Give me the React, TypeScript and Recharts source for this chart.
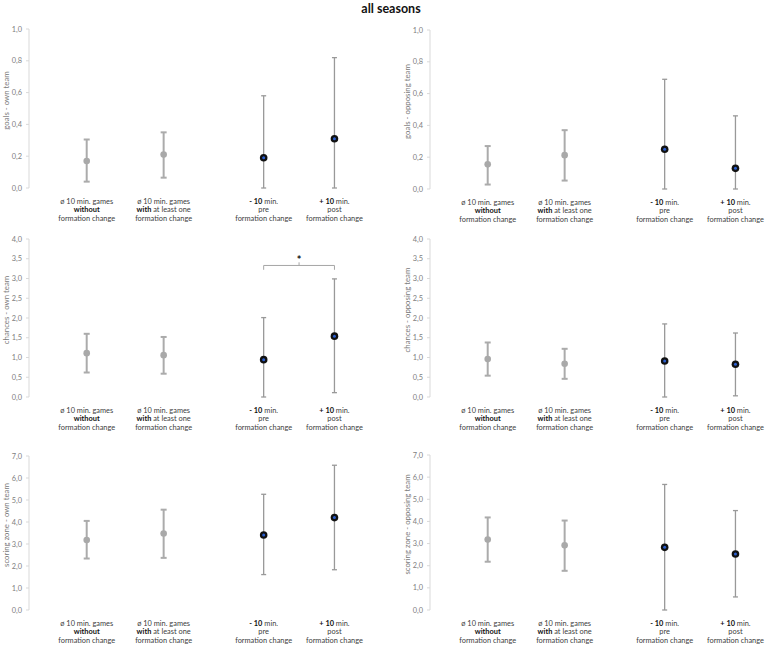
import React from "react";
import {
  ScatterChart,
  Scatter,
  XAxis,
  YAxis,
  ErrorBar,
  ReferenceLine,
  ReferenceDot,
} from "recharts";

// x-axis labels, "|" = line break, ** ** = bold
const categories = [
  "ø 10 min. games|**without**|formation change",
  "ø 10 min. games|**with** at least one|formation change",
  "**- 10** min.|pre|formation change",
  "**+ 10** min.|post|formation change",
];

const goalsOwnMean = [0.17, 0.21, 0.19, 0.31];
const goalsOwnLow = [0.04, 0.065, 0, 0];
const goalsOwnHigh = [0.305, 0.35, 0.58, 0.82];

const goalsOppMean = [0.155, 0.213, 0.25, 0.13];
const goalsOppLow = [0.028, 0.053, 0, 0];
const goalsOppHigh = [0.27, 0.37, 0.69, 0.46];

const chancesOwnMean = [1.11, 1.06, 0.945, 1.54];
const chancesOwnLow = [0.62, 0.59, 0, 0.11];
const chancesOwnHigh = [1.6, 1.52, 2.01, 2.99];

const chancesOppMean = [0.96, 0.84, 0.91, 0.83];
const chancesOppLow = [0.54, 0.46, 0, 0.03];
const chancesOppHigh = [1.38, 1.22, 1.85, 1.62];

const zoneOwnMean = [3.18, 3.48, 3.41, 4.2];
const zoneOwnLow = [2.34, 2.37, 1.61, 1.83];
const zoneOwnHigh = [4.05, 4.56, 5.26, 6.58];

const zoneOppMean = [3.18, 2.92, 2.83, 2.53];
const zoneOppLow = [2.18, 1.77, 0, 0.59];
const zoneOppHigh = [4.18, 4.04, 5.67, 4.49];

const goalTicks = [0, 0.2, 0.4, 0.6, 0.8, 1];
const chanceTicks = [0, 0.5, 1, 1.5, 2, 2.5, 3, 3.5, 4];
const zoneTicks = [0, 1, 2, 3, 4, 5, 6, 7];

// layout: horizontal slot of each category on the numeric x axis
const slotX = [1, 2, 3.3, 4.22];
const X_DOMAIN = [0.25, 4.63];

const FONT = "Lato, 'Open Sans', sans-serif";
const fmt = (v: number) => v.toFixed(1).replace(".", ",");

const build = (mean: number[], low: number[], high: number[]) =>
  mean.map((m, i) => ({
    x: slotX[i],
    y: m,
    err: [m - low[i], high[i] - m],
  }));

const renderRich = (line: string) =>
  line.split("**").map((p, i) =>
    i % 2 === 1 ? (
      <tspan key={i} fontWeight="bold" fill="#111">
        {p}
      </tspan>
    ) : (
      <tspan key={i} fill="#404040">{p}</tspan>
    )
  );

const XTick = (props: any) => {
  const { x, y, payload } = props;
  const idx = slotX.indexOf(payload.value);
  if (idx < 0) return null;
  const lines = categories[idx].split("|");
  return (
    <text x={x} y={y} textAnchor="middle" fontSize={7.4} fill="#404040" fontFamily={FONT}>
      {lines.map((ln, i) => (
        <tspan key={i} x={x} dy={i === 0 ? 15.5 : 8.5}>
          {renderRich(ln)}
        </tspan>
      ))}
    </text>
  );
};

const GrayDot = (props: any) => {
  const { cx, cy } = props;
  if (cx == null || cy == null) return null;
  return <circle cx={cx} cy={cy} r={3.3} fill="#a9a9a9" />;
};

const DarkDot = (props: any) => {
  const { cx, cy } = props;
  if (cx == null || cy == null) return null;
  return (
    <g>
      <circle cx={cx} cy={cy} r={3.8} fill="#111" />
      <circle cx={cx} cy={cy} r={1.5} fill="#2b5fd0" />
    </g>
  );
};

interface PanelProps {
  left: number;
  plotTop: number;
  plotBottom: number;
  title: string;
  mean: number[];
  low: number[];
  high: number[];
  ticks: number[];
  sig?: boolean;
}

const Panel = ({ left, plotTop, plotBottom, title, mean, low, high, ticks, sig }: PanelProps) => {
  const data = build(mean, low, high);
  const gray = data.slice(0, 2);
  const dark = data.slice(2);
  const mt = 10;
  const axisH = 40;
  const height = plotBottom - plotTop + mt + axisH;
  const yMax = ticks[ticks.length - 1];
  const midX = (slotX[2] + slotX[3]) / 2;
  const bracket = "#a6a6a6";
  return (
    <div style={{ position: "absolute", left, top: plotTop - mt }}>
      <ScatterChart
        width={366}
        height={height}
        margin={{ top: mt, right: 0, bottom: 0, left: 0 }}
      >
        <XAxis
          type="number"
          dataKey="x"
          domain={X_DOMAIN}
          ticks={slotX}
          interval={0}
          axisLine={false}
          tickLine={false}
          tickSize={0}
          tickMargin={0}
          height={axisH}
          tick={<XTick />}
          allowDataOverflow
        />
        <YAxis
          type="number"
          dataKey="y"
          domain={[0, yMax]}
          ticks={ticks}
          width={29}
          tickFormatter={fmt}
          axisLine={{ stroke: "#d9d9d9" }}
          tickLine={{ stroke: "#d9d9d9" }}
          tickSize={3}
          tickMargin={4}
          tick={{ fontSize: 7.4, fill: "#808080", fontFamily: FONT }}
          allowDataOverflow
          label={{
            value: title,
            content: (p: any) => {
              const vb = p.viewBox || {};
              const cx = (vb.x ?? 0) + 5.5;
              const cy = (vb.y ?? 0) + (vb.height ?? 0) / 2 - 8;
              return (
                <text
                  x={cx}
                  y={cy}
                  transform={`rotate(-90, ${cx}, ${cy})`}
                  textAnchor="middle"
                  dominantBaseline="central"
                  fontSize={7.8}
                  fill="#7a7a7a"
                  fontFamily={FONT}
                >
                  {title}
                </text>
              );
            },
          }}
        />
        <Scatter data={gray} shape={<GrayDot />} isAnimationActive={false}>
          <ErrorBar dataKey="err" direction="y" width={3} stroke="#ababab" strokeWidth={2} isAnimationActive={false} />
        </Scatter>
        <Scatter data={dark} shape={<DarkDot />} isAnimationActive={false}>
          <ErrorBar dataKey="err" direction="y" width={2.5} stroke="#999" strokeWidth={1.3} isAnimationActive={false} />
        </Scatter>
        {sig && (
          <ReferenceLine
            segment={[
              { x: slotX[2], y: 3.33 },
              { x: slotX[3], y: 3.33 },
            ]}
            stroke={bracket}
          />
        )}
        {sig && (
          <ReferenceLine
            segment={[
              { x: slotX[2], y: 3.22 },
              { x: slotX[2], y: 3.33 },
            ]}
            stroke={bracket}
          />
        )}
        {sig && (
          <ReferenceLine
            segment={[
              { x: slotX[3], y: 3.22 },
              { x: slotX[3], y: 3.33 },
            ]}
            stroke={bracket}
          />
        )}
        {sig && (
          <ReferenceLine
            segment={[
              { x: midX, y: 3.33 },
              { x: midX, y: 3.41 },
            ]}
            stroke={bracket}
          />
        )}
        {sig && (
          <ReferenceDot
            x={midX}
            y={3.55}
            r={0}
            fill="none"
            stroke="none"
            label={{ value: "*", fontSize: 11, fontWeight: "bold", fill: "#111", fontFamily: FONT, dy: 3 }}
          />
        )}
      </ScatterChart>
    </div>
  );
};

export default function App() {
  return (
    <div
      style={{
        position: "absolute",
        left: 0,
        top: 0,
        width: 767,
        height: 645,
        background: "#fff",
        overflow: "hidden",
        fontFamily: FONT,
      }}
    >
      <div
        style={{
          position: "absolute",
          left: 0,
          width: 782,
          top: 1,
          textAlign: "center",
          fontWeight: "bold",
          fontSize: 12.5,
          color: "#111",
        }}
      >
        all seasons
      </div>
      <Panel left={0} plotTop={29} plotBottom={188} title="goals - own team" mean={goalsOwnMean} low={goalsOwnLow} high={goalsOwnHigh} ticks={goalTicks} />
      <Panel left={401} plotTop={30} plotBottom={189} title="goals - opposing team" mean={goalsOppMean} low={goalsOppLow} high={goalsOppHigh} ticks={goalTicks} />
      <Panel left={0} plotTop={239} plotBottom={397} title="chances - own team" mean={chancesOwnMean} low={chancesOwnLow} high={chancesOwnHigh} ticks={chanceTicks} sig />
      <Panel left={401} plotTop={239} plotBottom={397} title="chances - opposing team" mean={chancesOppMean} low={chancesOppLow} high={chancesOppHigh} ticks={chanceTicks} />
      <Panel left={0} plotTop={456} plotBottom={610} title="scoring zone - own team" mean={zoneOwnMean} low={zoneOwnLow} high={zoneOwnHigh} ticks={zoneTicks} />
      <Panel left={401} plotTop={455} plotBottom={610} title="scoring zone - opposing team" mean={zoneOppMean} low={zoneOppLow} high={zoneOppHigh} ticks={zoneTicks} />
    </div>
  );
}
